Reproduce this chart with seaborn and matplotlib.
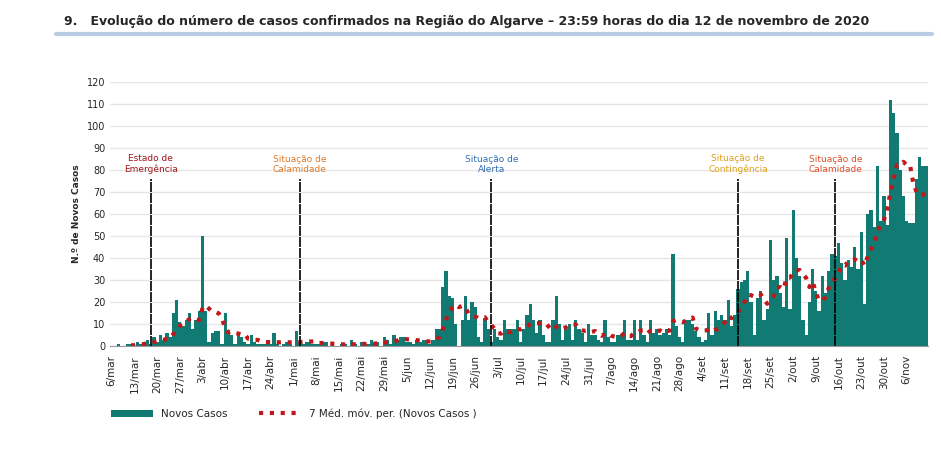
import numpy as np
import pandas as pd
import matplotlib.pyplot as plt
import seaborn as sns

# novos casos diários, 6/mar a 12/nov 2020 (semanas de 7 dias)
casos = [
    0, 0, 1, 0, 0, 1, 1,
    0, 2, 1, 2, 3, 1, 4,
    2, 5, 3, 6, 4, 15, 21,
    11, 9, 12, 15, 8, 12, 16,
    50, 16, 2, 6, 7, 7, 1,
    15, 6, 5, 1, 5, 4, 2,
    1, 5, 2, 1, 1, 1, 2,
    1, 6, 1, 0, 1, 2, 1,
    0, 7, 2, 1, 2, 2, 1,
    1, 1, 2, 2, 0, 1, 0,
    0, 1, 1, 0, 3, 1, 0,
    2, 0, 1, 3, 1, 2, 0,
    4, 3, 1, 5, 3, 4, 4,
    2, 2, 1, 3, 2, 3, 3,
    1, 3, 8, 8, 27, 34, 23,
    22, 10, 0, 12, 23, 12, 20,
    18, 4, 2, 13, 8, 2, 8,
    4, 3, 12, 8, 8, 8, 12,
    2, 8, 14, 19, 12, 6, 12,
    5, 2, 2, 12, 23, 10, 3,
    8, 10, 3, 12, 8, 6, 2,
    10, 5, 5, 3, 2, 12, 4,
    2, 2, 5, 5, 12, 3, 3,
    12, 3, 12, 5, 2, 12, 6,
    8, 5, 6, 8, 5, 42, 9,
    4, 2, 12, 12, 10, 7, 4,
    2, 3, 15, 5, 16, 12, 14,
    12, 21, 9, 14, 26, 29, 30,
    34, 20, 5, 22, 25, 12, 17,
    48, 30, 32, 24, 18, 49, 17,
    62, 40, 32, 12, 5, 20, 35,
    25, 16, 32, 24, 34, 42, 41,
    47, 38, 30, 39, 36, 45, 35,
    52, 19, 60, 62, 54, 82, 57,
    68, 55, 112, 106, 97, 80, 68,
    57, 56, 56, 76, 86, 82, 82,
]
meses = ["jan", "fev", "mar", "abr", "mai", "jun", "jul", "ago", "set", "out", "nov", "dez"]
datas = pd.date_range("2020-03-06", periods=len(casos), freq="D")
tick_labels = [f"{d.day}/{meses[d.month - 1]}" for d in datas[::7]]

eventos = [
    ("2020-03-18", "Estado de\nEmergência", "#a3161b"),
    ("2020-05-03", "Situação de\nCalamidade", "#e07b2a"),
    ("2020-07-01", "Situação de\nAlerta", "#2e6fb7"),
    ("2020-09-15", "Situação de\nContingência", "#e0a21a"),
    ("2020-10-15", "Situação de\nCalamidade", "#e0502a"),
]

df = pd.DataFrame({"dia": np.arange(len(casos)), "casos": casos})
df["media"] = df["casos"].rolling(7).mean()

sns.set_style("white")
plt.rcParams["font.family"] = ["DejaVu Sans"]

fig = plt.figure(figsize=(9.41, 4.71), dpi=100)
ax = fig.add_axes([0.117, 0.265, 0.869, 0.561])

sns.barplot(data=df, x="dia", y="casos", native_scale=True, color="#117a72",
            width=1.0, linewidth=0, saturation=1, ax=ax, label="Novos Casos")
sns.lineplot(data=df, x="dia", y="media", color="#c0181a", linestyle=(0, (1, 1.6)),
             linewidth=3, ax=ax, label="7 Méd. móv. per. (Novos Casos )")

for data, txt, cor in eventos:
    i = (pd.Timestamp(data) - datas[0]).days
    ax.plot([i, i], [0, 76], color="black", linestyle=(0, (6, 0.6)), linewidth=1.2)
    ax.text(i, 78, txt, color=cor, fontsize=6.5, ha="center", va="bottom")

ax.set_xlim(-0.5, len(casos) - 0.5)
ax.set_ylim(0, 120)
ax.set_yticks(range(0, 121, 10))
ax.set_xticks(df["dia"].values[::7])
ax.set_xticklabels(tick_labels, rotation=90, fontsize=7.5)
ax.tick_params(axis="y", labelsize=7, length=0)
ax.tick_params(axis="x", length=3, color="#888888")
ax.grid(axis="y", color="#e6e6e6", linewidth=1)
ax.set_axisbelow(True)
ax.set_xlabel("")
ax.set_ylabel("N.º de Novos Casos", fontsize=6.5, fontweight="bold")
for s in ["top", "right", "left"]:
    ax.spines[s].set_visible(False)
ax.spines["bottom"].set_color("#999999")

handles, labels = ax.get_legend_handles_labels()
order = [labels.index("Novos Casos"), labels.index("7 Méd. móv. per. (Novos Casos )")]
ax.legend([handles[k] for k in order], [labels[k] for k in order],
          loc="upper left", bbox_to_anchor=(-0.01, -0.2), ncol=2, frameon=False,
          fontsize=7.5, columnspacing=3, handlelength=4)

fig.text(0.068, 0.955, "9.   Evolução do número de casos confirmados na Região do Algarve – 23:59 horas do dia 12 de novembro de 2020",
         fontsize=9, fontweight="bold", va="center")
fig.add_artist(plt.Line2D([0.06, 0.99], [0.927, 0.927], color="#b8cce4", linewidth=3))

fig.savefig("out.png", dpi=100, facecolor="white")
